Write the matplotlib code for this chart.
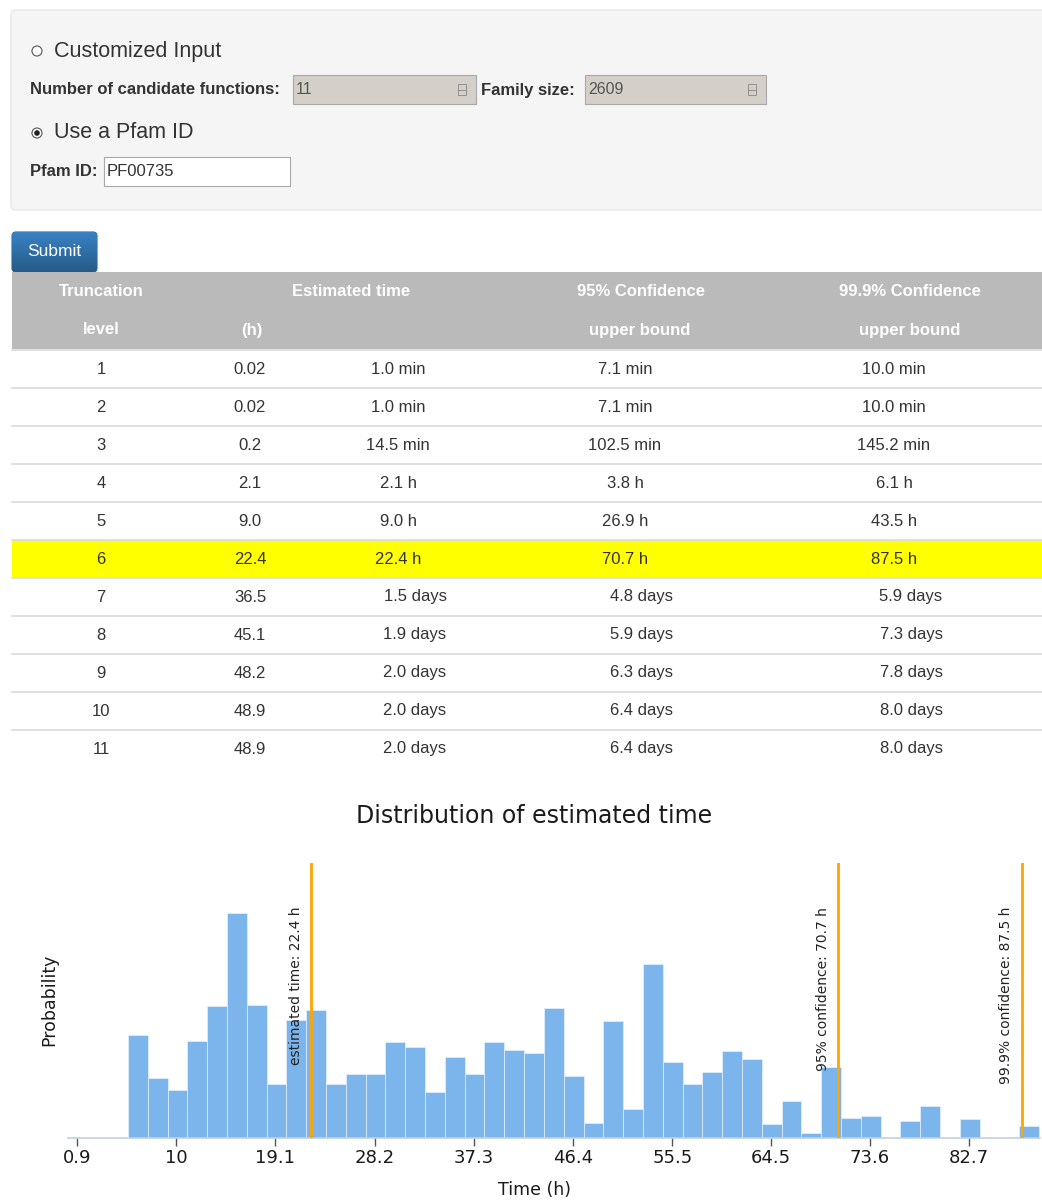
import matplotlib
matplotlib.use("Agg")
import matplotlib.pyplot as plt
import numpy as np
from matplotlib.patches import FancyBboxPatch, Rectangle, Circle

# ---- page data ----
n_funcs = "11"
family_size = "2609"
pfam_id = "PF00735"

header_top = ["Truncation", "Estimated time", "95% Confidence", "99.9% Confidence"]
header_bottom = ["level", "(h)", "upper bound", "upper bound"]
levels = ["1", "2", "3", "4", "5", "6", "7", "8", "9", "10", "11"]
est_hours = ["0.02", "0.02", "0.2", "2.1", "9.0", "22.4", "36.5", "45.1", "48.2", "48.9", "48.9"]
est_time = ["1.0 min", "1.0 min", "14.5 min", "2.1 h", "9.0 h", "22.4 h",
            "1.5 days", "1.9 days", "2.0 days", "2.0 days", "2.0 days"]
conf95 = ["7.1 min", "7.1 min", "102.5 min", "3.8 h", "26.9 h", "70.7 h",
          "4.8 days", "5.9 days", "6.3 days", "6.4 days", "6.4 days"]
conf999 = ["10.0 min", "10.0 min", "145.2 min", "6.1 h", "43.5 h", "87.5 h",
           "5.9 days", "7.3 days", "7.8 days", "8.0 days", "8.0 days"]
highlight_row = 5

# ---- histogram data ----
bin_start = 5.6    # h
bin_width = 1.815  # h
probability = [0.103, 0.060, 0.048, 0.097, 0.132, 0.225, 0.133, 0.054, 0.118, 0.128,
               0.054, 0.064, 0.064, 0.096, 0.091, 0.046, 0.081, 0.064, 0.096, 0.088,
               0.085, 0.130, 0.062, 0.015, 0.117, 0.029, 0.174, 0.076, 0.054, 0.066,
               0.087, 0.079, 0.014, 0.037, 0.005, 0.071, 0.020, 0.022, 0.0, 0.017,
               0.032, 0.0, 0.019, 0.0, 0.0, 0.012]
x_ticks = [0.9, 10, 19.1, 28.2, 37.3, 46.4, 55.5, 64.5, 73.6, 82.7]
marker_values = [22.4, 70.7, 87.5]
marker_labels = ["estimated time: 22.4 h", "95% confidence: 70.7 h", "99.9% confidence: 87.5 h"]

W, H = 1042, 1201
fig = plt.figure(figsize=(W / 100, H / 100), dpi=100)
pg = fig.add_axes([0, 0, 1, 1])
pg.set_xlim(0, W)
pg.set_ylim(H, 0)
pg.axis("off")

sans = ["Liberation Sans", "DejaVu Sans"]
txt = "#333333"

# form panel
pg.add_patch(FancyBboxPatch((11, 10), 1040, 200, boxstyle="round,pad=0,rounding_size=5",
                            fc="#f5f5f5", ec="#e8e8e8", lw=1))

# radio buttons
pg.add_patch(Circle((37, 51), 5, fc="white", ec="#555555", lw=0.8))
pg.add_patch(Circle((37, 133), 5, fc="white", ec="#555555", lw=0.8))
pg.add_patch(Circle((37, 133), 2.8, fc="#222222", ec="none"))
pg.text(54, 51, "Customized Input", fontsize=15.5, family=sans, color=txt, va="center")
pg.text(54, 133, "Use a Pfam ID", fontsize=15.5, family=sans, color=txt, va="center")

# number inputs
pg.text(30, 90, "Number of candidate functions:", fontsize=12, family=sans, weight="bold",
        color=txt, va="center")
pg.text(481, 90, "Family size:", fontsize=12, family=sans, weight="bold", color=txt, va="center")
for x0, x1, val in [(293, 476, n_funcs), (585, 766, family_size)]:
    pg.add_patch(Rectangle((x0, 75), x1 - x0, 29, fc="#d4d0c8", ec="#a9a9a9", lw=0.8))
    pg.text(x0 + 3, 90, val, fontsize=11.5, family=sans, color="#555555", va="center")
    sx = x1 - 18
    pg.add_patch(Rectangle((sx, 84), 8, 11, fc="none", ec="#888888", lw=0.6))
    pg.plot([sx, sx + 8], [89.5, 89.5], color="#888888", lw=0.6)

pg.text(30, 172, "Pfam ID:", fontsize=12, family=sans, weight="bold", color=txt, va="center")
pg.add_patch(Rectangle((104, 157), 186, 29, fc="white", ec="#a9a9a9", lw=0.8))
pg.text(107, 172, pfam_id, fontsize=12, family=sans, color=txt, va="center")

# submit button with gradient
btn = FancyBboxPatch((12, 232), 85, 40, boxstyle="round,pad=0,rounding_size=4",
                     fc="none", ec="#2b669a", lw=0.8)
pg.add_patch(btn)
grad = np.linspace(0, 1, 64).reshape(-1, 1)
img = pg.imshow(grad, extent=(12, 97, 272, 232), cmap=matplotlib.colors.LinearSegmentedColormap.from_list(
    "b", ["#3a82c4", "#265a88"]), aspect="auto", zorder=1)
img.set_clip_path(btn)
pg.text(54.5, 252, "Submit", fontsize=12.5, family=sans, color="white", ha="center",
        va="center", zorder=3)
pg.set_xlim(0, W)
pg.set_ylim(H, 0)

# table
pg.add_patch(Rectangle((12, 272), W - 12, 77, fc="#bababa", ec="none"))
head_x = [101, 351, 641, 910]
head_x2 = [101, 252, 640, 910]
for x, t in zip(head_x, header_top):
    pg.text(x, 291, t, fontsize=12, family=sans, weight="bold", color="white",
            ha="center", va="center")
for x, t in zip(head_x2, header_bottom):
    pg.text(x, 330, t, fontsize=12, family=sans, weight="bold", color="white",
            ha="center", va="center")

row_h = 38
col_x = [101, 250, 398, 625, 894]
for i in range(len(levels)):
    yc = 369 + i * row_h
    if i == highlight_row:
        pg.add_patch(Rectangle((12, yc - 19), W - 12, row_h, fc="#ffff00", ec="none"))
    pg.plot([12, W], [yc - 19, yc - 19], color="#dddddd", lw=1.3)
    cells = [levels[i], est_hours[i], est_time[i], conf95[i], conf999[i]]
    for j, (x, c) in enumerate(zip(col_x, cells)):
        if j >= 2 and c.endswith("days"):
            x += 17
        pg.text(x, yc, c, fontsize=12, family=sans, color=txt, ha="center", va="center")

# chart title / axis titles
pg.text(534, 816, "Distribution of estimated time", fontsize=17, color="#1a1a1a",
        ha="center", va="center")
pg.text(49, 1000, "Probability", fontsize=12.5, color="#1a1a1a", rotation=90,
        ha="center", va="center")
pg.text(534, 1190, "Time (h)", fontsize=12.5, color="#1a1a1a", ha="center", va="center")

# ---- histogram ----
px_per_h = 10.912
x_left = 0.9 + (68 - 76.7) / px_per_h
x_right = 0.9 + (1040 - 76.7) / px_per_h
ax = fig.add_axes([68 / W, 1 - 1138.3 / H, (1040 - 68) / W, 275.6 / H])
ax.patch.set_alpha(0)
edges = bin_start + bin_width * np.arange(len(probability))
ax.bar(edges, probability, width=bin_width, align="edge", color="#7cb5ec",
       edgecolor="#e6f0fb", linewidth=0.5, zorder=2)
for v, lab in zip(marker_values, marker_labels):
    ax.axvline(v, color="#ffa500", lw=2, zorder=3)
    ax.annotate(lab, xy=(v, 0.84), xycoords=("data", "axes fraction"), xytext=(-6, 0),
                textcoords="offset points", rotation=90, ha="right", va="top",
                fontsize=10, color="#222222", zorder=4)
ax.set_xlim(x_left, x_right)
ax.set_ylim(0, 0.2756)
for s in ["top", "right", "left"]:
    ax.spines[s].set_visible(False)
ax.spines["bottom"].set_color("#c0d0e0")
ax.spines["bottom"].set_linewidth(1.2)
ax.set_yticks([])
ax.set_xticks(x_ticks)
ax.set_xticklabels([str(t) for t in x_ticks])
ax.tick_params(axis="x", direction="out", length=6, width=1, color="#555555",
               labelsize=13, labelcolor="#1a1a1a", pad=2)

fig.savefig("out.png", dpi=100)
